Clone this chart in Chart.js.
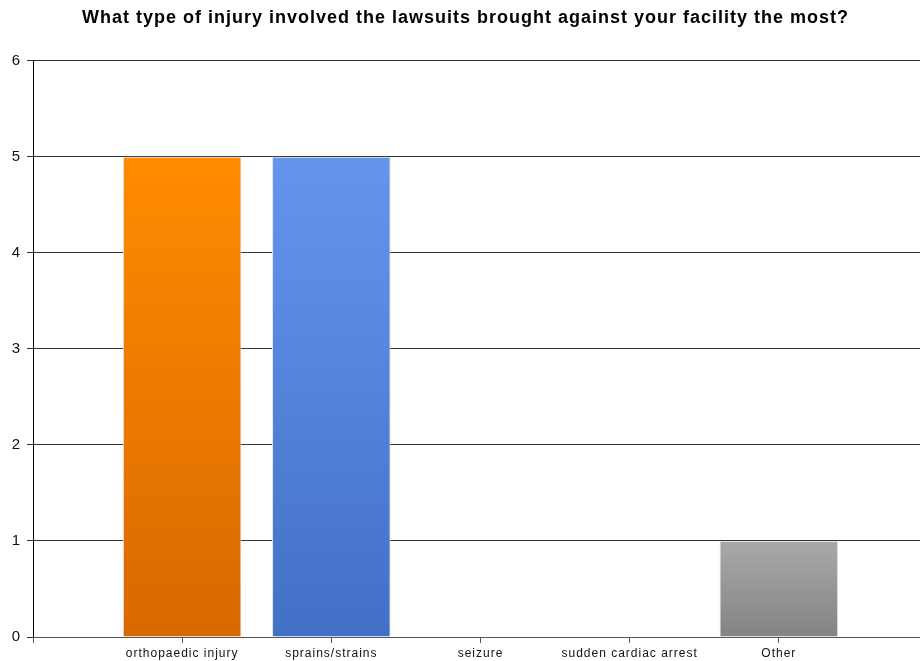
<!DOCTYPE html>
<html>
<head>
<meta charset="utf-8">
<script src="https://cdn.jsdelivr.net/npm/chart.js@4"></script>
<style>
    html, body { margin: 0; padding: 0; background: #fff; overflow: hidden; }
    #wrap { width: 931px; height: 661px; }
</style>
</head>
<body>
<div id="wrap"><canvas id="injuryChart" width="931" height="661"></canvas></div>
<script>
// labels with empty ends so the bars sit on the tick positions like the original
const categories = ["", "orthopaedic injury", "sprains/strains", "seizure", "sudden cardiac arrest", "Other", ""];
const counts = [null, 5, 5, 0, 0, 1, null];
const yTicks = [0, 1, 2, 3, 4, 5, 6];

// top / bottom colour of each bar gradient
const topColors = ["#FF8C00", "#FF8C00", "#6495ED", "#A9A9A9", "#A9A9A9", "#A9A9A9", "#A9A9A9"];
const bottomColors = ["#D96800", "#D96800", "#4270C6", "#838383", "#838383", "#838383", "#838383"];

const fontFamily = "Arial, 'Liberation Sans', sans-serif";

document.addEventListener("DOMContentLoaded", function () {
    var ctx = document.getElementById("injuryChart").getContext("2d");

    // the original text is rendered a bit wider, a little letter spacing gets closer
    const spacing = {
        id: "spacing",
        beforeLayout: (chart) => { chart.ctx.letterSpacing = "1px"; },
        beforeDraw: (chart) => { chart.ctx.letterSpacing = "1px"; },
    };

    function barGradient(context) {
        const chart = context.chart;
        const i = context.dataIndex;
        if (!chart.chartArea || !chart.scales.y) return topColors[i];
        const v = counts[i] || 0;
        const yTop = chart.scales.y.getPixelForValue(v);
        const yBase = chart.scales.y.getPixelForValue(0);
        if (yBase - yTop < 1) return topColors[i];
        const g = chart.ctx.createLinearGradient(0, yTop, 0, yBase);
        g.addColorStop(0, topColors[i]);
        g.addColorStop(1, bottomColors[i]);
        return g;
    }

    new Chart(ctx, {
        type: "bar",
        data: {
            labels: categories,
            datasets: [
                {
                    data: counts,
                    backgroundColor: barGradient,
                    borderColor: "#e2e2e2",
                    borderWidth: (c) => (counts[c.dataIndex] ? 1 : 0),
                    barPercentage: 0.795,
                    categoryPercentage: 1,
                },
            ],
        },
        plugins: [spacing],
        options: {
            responsive: false,
            animation: false,
            layout: { padding: 0 },
            plugins: {
                legend: { display: false },
                tooltip: { enabled: false },
                title: {
                    display: true,
                    text: "What type of injury involved the lawsuits brought against your facility the most?",
                    color: "#000",
                    font: { family: fontFamily, size: 18, weight: "bold" },
                    padding: { top: 7, bottom: 32 },
                },
            },
            scales: {
                x: {
                    offset: false,
                    grid: {
                        offset: false,
                        drawOnChartArea: false,
                        drawTicks: true,
                        tickLength: 6,
                        color: "#555",
                    },
                    border: { color: "#555", width: 1 },
                    ticks: {
                        color: "#111",
                        padding: 3,
                        maxRotation: 0,
                        autoSkip: false,
                        font: { family: fontFamily, size: 12 },
                    },
                    afterFit: (scale) => { scale.height = 24; },
                },
                y: {
                    min: 0,
                    max: 6,
                    afterBuildTicks: (scale) => {
                        scale.ticks = yTicks.map((v) => ({ value: v }));
                    },
                    grid: { color: "#333", tickLength: 6 },
                    border: { color: "#000", width: 1 },
                    ticks: {
                        color: "#111",
                        padding: 6,
                        font: { family: fontFamily, size: 15 },
                    },
                    afterFit: (scale) => { scale.width = 33; },
                },
            },
        },
    });
});
</script>
</body>
</html>
